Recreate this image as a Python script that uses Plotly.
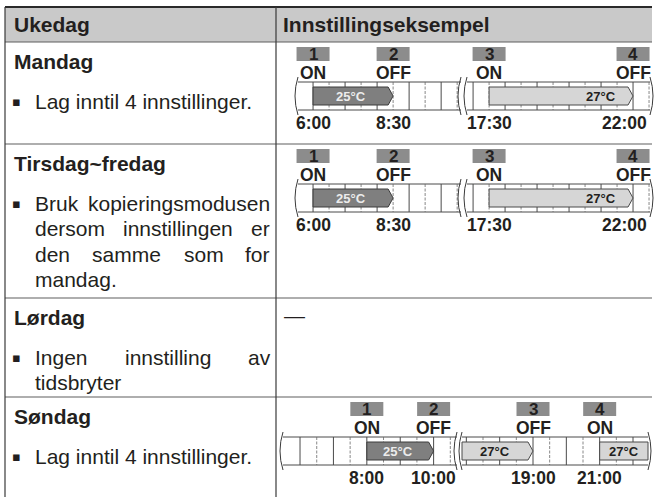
import plotly.graph_objects as go

# ---------------- data ----------------
header_labels = ["Ukedag", "Innstillingseksempel"]
day_titles = ["Mandag", "Tirsdag~fredag", "Lørdag", "Søndag"]
day_note_lines = [
    ["Lag inntil 4 innstillinger."],
    ["Bruk kopieringsmodusen", "dersom innstillingen er", "den samme som for", "mandag."],
    ["Ingen innstilling av", "tidsbryter"],
    ["Lag inntil 4 innstillinger."],
]
saturday_example = "—"

mandag_event_hours = [6.0, 8.5, 17.5, 22.0]
mandag_event_labels = ["6:00", "8:30", "17:30", "22:00"]
mandag_event_actions = ["ON", "OFF", "ON", "OFF"]
mandag_event_numbers = ["1", "2", "3", "4"]
mandag_bar_start = [6.0, 17.5]
mandag_bar_end = [8.5, 22.0]
mandag_bar_temp = ["25°C", "27°C"]

tirsdag_event_hours = [6.0, 8.5, 17.5, 22.0]
tirsdag_event_labels = ["6:00", "8:30", "17:30", "22:00"]
tirsdag_event_actions = ["ON", "OFF", "ON", "OFF"]
tirsdag_event_numbers = ["1", "2", "3", "4"]
tirsdag_bar_start = [6.0, 17.5]
tirsdag_bar_end = [8.5, 22.0]
tirsdag_bar_temp = ["25°C", "27°C"]

sondag_event_hours = [8.0, 10.0, 19.0, 21.0]
sondag_event_labels = ["8:00", "10:00", "19:00", "21:00"]
sondag_event_actions = ["ON", "OFF", "OFF", "ON"]
sondag_event_numbers = ["1", "2", "3", "4"]
sondag_bar_start = [8.0, None, 21.0]   # None: bar continues from outside the window
sondag_bar_end = [10.0, 19.0, None]    # None: bar continues beyond the window
sondag_bar_temp = ["25°C", "27°C", "27°C"]

# ---------------- layout constants ----------------
W, H = 654, 497
FONT = "Liberation Sans, Arial, Helvetica, sans-serif"
INK = "#231f20"
X_LEFT, X_DIV, X_RIGHT = 5, 276, 652
Y_TOP, Y_HEAD = 7, 42
ROW_TOPS = [42, 144, 298, 397]
TXT_L, TXT_R = 33, 268
FS = 21
TITLE_DY, LINE1_DY, LINE_GAP = 19, 59, 25.5

# visible windows of each timeline: (hour0, hour1, px0, px1)
WEEKDAY_WINDOWS = [(5.53, 10.62, 298, 461), (16.81, 22.53, 467, 650)]
SUNDAY_WINDOWS = [(5.49, 10.70, 283, 457), (16.87, 22.45, 462, 648)]
TL_H = 95
PAD = 8
BOX_TOP, BOX_BOT = 5, 19
ACT_Y, STRIP_T, STRIP_B, BAR_T, BAR_B, LAB_Y = 31, 40, 68, 45, 63, 81
TEMP_STYLE = {"25°C": ("#7f7f7f", "#3c3c3c", "#ececec"),
              "27°C": ("#d6d6d6", "#4a4a4a", INK)}

REG = {' ': .278, '.': .278, '~': .584, 'a': .556, 'b': .556, 'c': .5, 'd': .556, 'e': .556,
       'f': .278, 'g': .556, 'h': .556, 'i': .222, 'j': .222, 'k': .5, 'l': .222, 'm': .833,
       'n': .556, 'o': .556, 'p': .556, 'q': .556, 'r': .333, 's': .5, 't': .278, 'u': .556,
       'v': .5, 'w': .722, 'x': .5, 'y': .5, 'z': .5, 'B': .667, 'I': .278, 'L': .556}
BOLD = {':': .333}


def text_w(s, fs, table=REG):
    return sum(table.get(c, .556) for c in s) * fs


def px(x):
    return x / W


def py(y):
    return 1 - y / H


fig = go.Figure()
shapes, annotations = [], []


def line(x0, y0, x1, y1, color="#5a5a5a", width=1):
    shapes.append(dict(type="line", xref="paper", yref="paper", x0=px(x0), y0=py(y0),
                       x1=px(x1), y1=py(y1), line=dict(color=color, width=width)))


def label(x, y, text, size=FS, bold=False, anchor="left", color=INK, family=FONT):
    annotations.append(dict(xref="paper", yref="paper", x=px(x), y=py(y), text=text,
                            showarrow=False, xanchor=anchor, yanchor="middle",
                            font=dict(family=family, size=size, color=color,
                                      weight="bold" if bold else "normal")))


# ---------------- table frame ----------------
shapes.append(dict(type="rect", xref="paper", yref="paper", x0=px(X_LEFT), x1=px(X_RIGHT),
                   y0=py(Y_HEAD), y1=py(Y_TOP), fillcolor="#c9c9c9", line=dict(width=0), layer="below"))
line(X_LEFT, Y_TOP, X_RIGHT, Y_TOP, color="#2a2a2a", width=1.8)
for yy in ROW_TOPS:
    line(X_LEFT, yy, X_RIGHT, yy, color="#5f5f5f", width=1.2)
line(X_LEFT, Y_TOP, X_LEFT, H, color="#3a3a3a", width=1.2)
line(X_DIV, Y_TOP, X_DIV, H, color="#3a3a3a", width=1.2)

label(12, 24.5, header_labels[0], bold=True)
label(281, 24.5, header_labels[1], bold=True)

# ---------------- left column texts ----------------
for r, top in enumerate(ROW_TOPS):
    label(12, top + TITLE_DY, day_titles[r], bold=True)
    lines = day_note_lines[r]
    for i, ln in enumerate(lines):
        yy = top + LINE1_DY + i * LINE_GAP
        if i == 0:
            label(16, yy, "▪", size=13, anchor="center", family="DejaVu Sans")
        words = ln.split(" ")
        if i < len(lines) - 1 and len(words) > 1:
            widths = [text_w(w, FS) for w in words]
            gap = (TXT_R - TXT_L - sum(widths)) / (len(words) - 1)
            xx = TXT_L
            for w, wd in zip(words, widths):
                label(xx, yy, w)
                xx += wd + gap
        else:
            label(TXT_L, yy, ln)

label(282, ROW_TOPS[2] + 17, saturday_example)

# ---------------- timelines ----------------
timelines = [
    dict(row=0, win=WEEKDAY_WINDOWS, hours=mandag_event_hours, labels=mandag_event_labels,
         actions=mandag_event_actions, numbers=mandag_event_numbers,
         bs=mandag_bar_start, be=mandag_bar_end, bt=mandag_bar_temp),
    dict(row=1, win=WEEKDAY_WINDOWS, hours=tirsdag_event_hours, labels=tirsdag_event_labels,
         actions=tirsdag_event_actions, numbers=tirsdag_event_numbers,
         bs=tirsdag_bar_start, be=tirsdag_bar_end, bt=tirsdag_bar_temp),
    dict(row=3, win=SUNDAY_WINDOWS, hours=sondag_event_hours, labels=sondag_event_labels,
         actions=sondag_event_actions, numbers=sondag_event_numbers,
         bs=sondag_bar_start, be=sondag_bar_end, bt=sondag_bar_temp),
]

axes = {}
ax_n = 0
for k, tl in enumerate(timelines):
    top = ROW_TOPS[tl["row"]]
    ysuf = "" if k == 0 else str(k + 1)
    yref = "y" + ysuf
    axes["yaxis" + ysuf] = dict(domain=[py(top + TL_H), py(top)], range=[TL_H, 0],
                                visible=False, fixedrange=True)
    segs = []
    for (h0, h1, p0, p1) in tl["win"]:
        ax_n += 1
        xsuf = "" if ax_n == 1 else str(ax_n)
        ppx = (p1 - p0) / (h1 - h0)
        d0, d1 = max(0, p0 - PAD), min(W, p1 + PAD)
        axes["xaxis" + xsuf] = dict(domain=[d0 / W, d1 / W],
                                    range=[h0 + (d0 - p0) / ppx, h1 + (d1 - p1) / ppx],
                                    visible=False, fixedrange=True, anchor=yref)
        segs.append(dict(xref="x" + xsuf, h0=h0, h1=h1, p0=p0, p1=p1, ppx=ppx))
    axes["yaxis" + ysuf]["anchor"] = segs[0]["xref"]

    def seg_of(t):
        for s in segs:
            if s["h0"] - 1e-6 <= t <= s["h1"] + 1e-6:
                return s
        return None

    for s in segs:
        xr, h0, h1, ppx = s["xref"], s["h0"], s["h1"], s["ppx"]
        fig.add_trace(go.Scatter(x=[h0, h1], y=[STRIP_T, STRIP_B], mode="markers",
                                 marker=dict(opacity=0), hoverinfo="skip", showlegend=False,
                                 xaxis=xr, yaxis=yref))
        for yy in (STRIP_T, STRIP_B):
            shapes.append(dict(type="line", xref=xr, yref=yref, x0=h0, x1=h1, y0=yy, y1=yy,
                               line=dict(color="#4a4a4a", width=1), layer="below"))
        kk = int(h0 * 2) + 1
        while kk / 2 <= h1:
            t = kk / 2
            if (t - h0) * ppx > 1.0 and (h1 - t) * ppx > 0.5:
                full = abs(t - round(t)) < 1e-9
                shapes.append(dict(type="line", xref=xr, yref=yref, x0=t, x1=t,
                                   y0=STRIP_T, y1=STRIP_B, layer="below",
                                   line=dict(color="#4a4a4a" if full else "#6a6a6a",
                                             width=1 if full else 0.8,
                                             dash="solid" if full else "3px,1.5px")))
            kk += 1

    for bs, be, bt in zip(tl["bs"], tl["be"], tl["bt"]):
        s = seg_of(bs if bs is not None else be)
        ppx = s["ppx"]
        x0 = bs if bs is not None else s["h0"]
        x1 = be if be is not None else s["h1"]
        tip = 5 / ppx if be is not None else 0
        fill, edge, tcol = TEMP_STYLE[bt]
        mid = (BAR_T + BAR_B) / 2
        fig.add_trace(go.Scatter(
            x=[x0, x1 - tip, x1, x1 - tip, x0, x0],
            y=[BAR_T, BAR_T, mid, BAR_B, BAR_B, BAR_T],
            mode="lines", fill="toself", fillcolor=fill, line=dict(color=edge, width=1),
            hoverinfo="skip", showlegend=False, xaxis=s["xref"], yaxis=yref))
        body_end = x1 - tip
        if (x1 - x0) > 3:
            tx, anc = body_end - 10 / ppx, "right"
        else:
            tx, anc = (x0 + body_end) / 2, "center"
        annotations.append(dict(xref=s["xref"], yref=yref, x=tx, y=mid + 0.5, text=bt,
                                showarrow=False, xanchor=anc, yanchor="middle",
                                font=dict(family=FONT, size=13, color=tcol, weight="bold")))

    for i, s in enumerate(segs):
        for j, h in enumerate((s["h0"], s["h1"])):
            bulge = -6 if not (i == len(segs) - 1 and j == 1) else 6
            dx = bulge / s["ppx"]
            shapes.append(dict(type="path", xref=s["xref"], yref=yref,
                               path=f"M {h},{STRIP_T - 5} Q {h + dx},{(STRIP_T + STRIP_B) / 2} {h},{STRIP_B + 5}",
                               line=dict(color="#3a3a3a", width=1), layer="above"))

    for t, lab, act, num in zip(tl["hours"], tl["labels"], tl["actions"], tl["numbers"]):
        s = seg_of(t)
        xr, ppx = s["xref"], s["ppx"]
        hw = 16.5 / ppx
        shapes.append(dict(type="rect", xref=xr, yref=yref, x0=t - hw, x1=t + hw,
                           y0=BOX_TOP, y1=BOX_BOT, fillcolor="#8c8c8c", line=dict(width=0),
                           layer="above"))
        annotations.append(dict(xref=xr, yref=yref, x=t, y=(BOX_TOP + BOX_BOT) / 2 + 0.5,
                                text=num, showarrow=False, xanchor="center", yanchor="middle",
                                font=dict(family=FONT, size=17, color=INK, weight="bold")))
        annotations.append(dict(xref=xr, yref=yref, x=t, y=ACT_Y, text=act, showarrow=False,
                                xanchor="center", yanchor="middle",
                                font=dict(family=FONT, size=17.5, color=INK, weight="bold")))
        pos = s["p0"] + (t - s["h0"]) * ppx
        w = text_w(lab, 17.5, BOLD)
        if pos + w / 2 > 649:
            lx, anc = s["h0"] + (649 - s["p0"]) / ppx, "right"
        else:
            lx, anc = t, "center"
        annotations.append(dict(xref=xr, yref=yref, x=lx, y=LAB_Y, text=lab, showarrow=False,
                                xanchor=anc, yanchor="middle",
                                font=dict(family=FONT, size=17.5, color=INK, weight="bold")))

fig.update_layout(
    width=W, height=H, margin=dict(l=0, r=0, t=0, b=0),
    paper_bgcolor="white", plot_bgcolor="rgba(0,0,0,0)",
    shapes=shapes, annotations=annotations, showlegend=False,
    **axes,
)
fig.write_html("out.html", config=dict(displayModeBar=False, staticPlot=True),
               post_script="document.body.style.margin='0px';document.body.style.overflow='hidden';")
